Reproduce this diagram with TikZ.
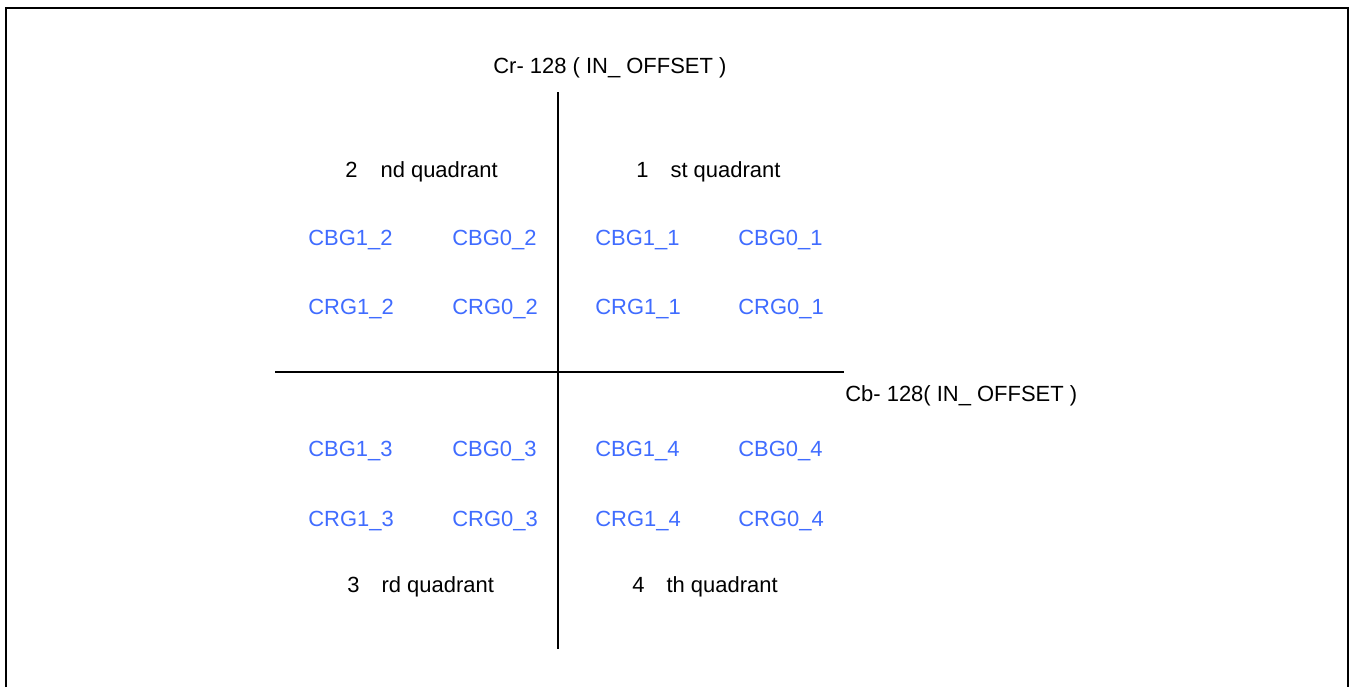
\documentclass[tikz,border=0pt]{standalone}
\usepackage{fontspec}
\setmainfont{Liberation Sans}
\usepackage{xcolor}
\usepackage{tikz}
\usetikzlibrary{positioning}

\definecolor{gainblue}{RGB}{64,108,255}

\begin{document}
\begin{tikzpicture}[
  x=0.02cm, y=-0.02cm,
  axislabel/.style={inner sep=0pt, anchor=base west, font=\fontsize{12.5}{15}\selectfont},
  quadlabel/.style={axislabel},
  gainlabel/.style={axislabel, text=gainblue},
  axisline/.style={line width=1pt},
]
\useasboundingbox (0,0) rectangle (1353,687);
% outer frame, open at the bottom
\draw[line width=1.3pt] (6,687) -- (6,8) -- (1348,8) -- (1348,687);
% axes
\coordinate (crtop) at (558,92);
\coordinate (crbot) at (558,649);
\coordinate (cbleft) at (275,372);
\coordinate (cbright) at (844,372);
\draw[axisline] (crtop) -- (crbot);
\draw[axisline] (cbleft) -- (cbright);
\node[axislabel] (crname) at (493,73) {Cr- 128 ( IN\_ OFFSET )};
\node[axislabel] (cbname) at (845,401) {Cb- 128( IN\_ OFFSET )};
% quadrant names
\node[quadlabel] (q2) at (345,177) {2\hspace{0.46cm}nd quadrant};
\node[quadlabel] (q1) at (636,177) {1\hspace{0.44cm}st quadrant};
\node[quadlabel] (q3) at (347,592) {3\hspace{0.44cm}rd quadrant};
\node[quadlabel] (q4) at (632,592) {4\hspace{0.44cm}th quadrant};
% upper gains
\node[gainlabel] (cbg12) at (308,245) {CBG1\_2};
\node[gainlabel] (cbg02) at (452,245) {CBG0\_2};
\node[gainlabel] (cbg11) at (595,245) {CBG1\_1};
\node[gainlabel] (cbg01) at (738,245) {CBG0\_1};
\node[gainlabel] (crg12) at (308,314) {CRG1\_2};
\node[gainlabel] (crg02) at (452,314) {CRG0\_2};
\node[gainlabel] (crg11) at (595,314) {CRG1\_1};
\node[gainlabel] (crg01) at (738,314) {CRG0\_1};
% lower gains
\node[gainlabel] (cbg13) at (308,456) {CBG1\_3};
\node[gainlabel] (cbg03) at (452,456) {CBG0\_3};
\node[gainlabel] (cbg14) at (595,456) {CBG1\_4};
\node[gainlabel] (cbg04) at (738,456) {CBG0\_4};
\node[gainlabel] (crg13) at (308,526) {CRG1\_3};
\node[gainlabel] (crg03) at (452,526) {CRG0\_3};
\node[gainlabel] (crg14) at (595,526) {CRG1\_4};
\node[gainlabel] (crg04) at (738,526) {CRG0\_4};
\end{tikzpicture}
\end{document}
